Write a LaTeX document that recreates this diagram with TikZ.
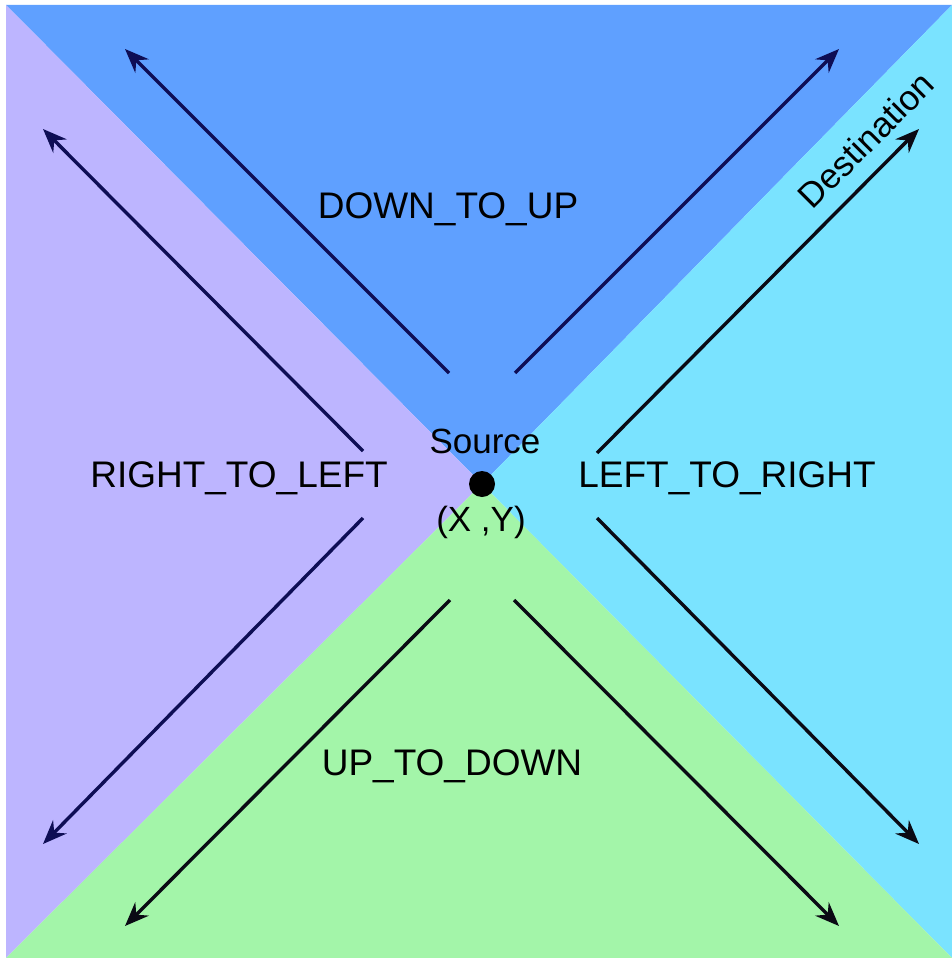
\documentclass[tikz,border=0pt]{standalone}
\usepackage{fontspec}
\setmainfont{Liberation Sans}
\usetikzlibrary{arrows.meta}
\definecolor{topblue}{HTML}{5FA0FF}
\definecolor{leftlav}{HTML}{BDB5FF}
\definecolor{rightcyan}{HTML}{7AE3FF}
\definecolor{botgreen}{HTML}{A3F5A9}
\definecolor{navy}{HTML}{0E0E55}
\definecolor{nearblack}{HTML}{0A0A14}
\tikzset{
  dirarrow/.style={line width=3.4pt, -{Stealth[length=24pt,width=19pt,inset=8pt]}},
  biglabel/.style={font=\fontsize{37}{44}\selectfont, inner sep=0pt},
  srclabel/.style={font=\fontsize{35}{40}\selectfont, inner sep=0pt},
}
\begin{document}
\begin{tikzpicture}[x=1pt,y=-1pt]
\useasboundingbox (0,0) rectangle (952,958);
\fill[white] (0,0) rectangle (952,958);
\coordinate (C) at (482,484);
\fill[topblue] (6,5) -- (952,5) -- (C) -- cycle;
\fill[leftlav] (6,5) -- (C) -- (6,958) -- cycle;
\fill[rightcyan] (952,5) -- (952,958) -- (C) -- cycle;
\fill[botgreen] (6,958) -- (C) -- (952,958) -- cycle;

% arrow end points
\coordinate (dul0) at (449,373); \coordinate (dul1) at (125,49);
\coordinate (dur0) at (515,373); \coordinate (dur1) at (839,49);
\coordinate (dst0) at (597,453); \coordinate (dst1) at (919,129);
\coordinate (rlt0) at (363,451); \coordinate (rlt1) at (43,129);
\coordinate (rlb0) at (363,518); \coordinate (rlb1) at (43,844);
\coordinate (lrb0) at (597,518); \coordinate (lrb1) at (919,844);
\coordinate (udl0) at (450,600); \coordinate (udl1) at (125,926);
\coordinate (udr0) at (514,600); \coordinate (udr1) at (839,926);

\draw[dirarrow, navy] (dul0) -- (dul1);
\draw[dirarrow, navy] (dur0) -- (dur1);
\draw[dirarrow, nearblack] (dst0) -- (dst1);
\draw[dirarrow, navy] (rlt0) -- (rlt1);
\draw[dirarrow, navy] (rlb0) -- (rlb1);
\draw[dirarrow, nearblack] (lrb0) -- (lrb1);
\draw[dirarrow, nearblack] (udl0) -- (udl1);
\draw[dirarrow, nearblack] (udr0) -- (udr1);

\node[biglabel] (dtu) at (448,209) {DOWN\_TO\_UP};
\node[biglabel] (rtl) at (239,478) {RIGHT\_TO\_LEFT};
\node[biglabel] (ltr) at (727,478) {LEFT\_TO\_RIGHT};
\node[biglabel] (utd) at (452,766) {UP\_TO\_DOWN};
\node[srclabel] (src) at (485,441) {Source};
\node[srclabel] (xy) at (481,522) {(X ,Y)};
\node[srclabel, rotate=45] (dest) at (866,140) {Destination};
\fill[black] (C) circle (13);
\end{tikzpicture}
\end{document}
